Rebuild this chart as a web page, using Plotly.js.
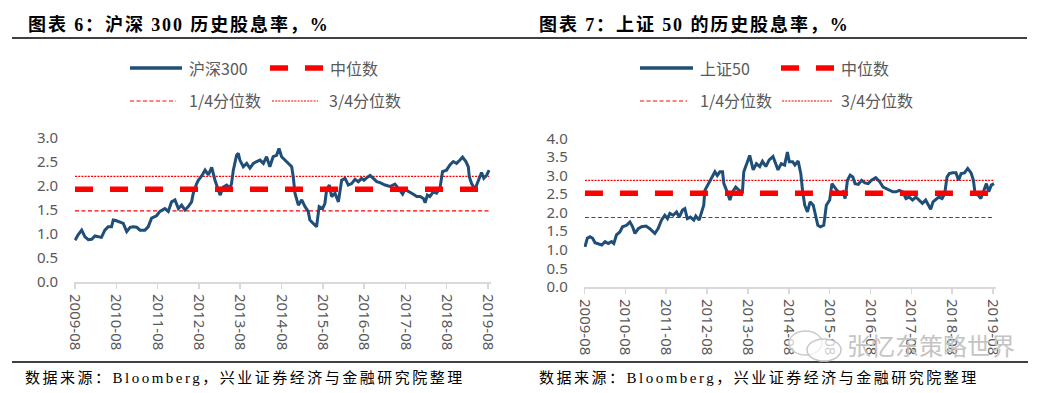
<!DOCTYPE html>
<html>
<head>
<meta charset="utf-8">
<script src="https://cdn.plot.ly/plotly-3.0.1.min.js"></script>
<style>
  html, body { margin: 0; padding: 0; background: #fff; }
  #chart { width: 1058px; height: 393px; }
</style>
</head>
<body>
<div id="chart"></div>
<script>
// ---------------- data ----------------
const hs300Dates = [
  '2009-08-01','2009-08-30','2009-09-29','2009-10-28','2009-11-27','2009-12-26','2010-01-25','2010-02-24','2010-03-23','2010-04-22',
  '2010-05-21','2010-06-20','2010-07-05','2010-07-28','2010-09-03','2010-10-02','2010-11-01','2010-12-01','2010-12-30','2011-01-29',
  '2011-02-27','2011-04-11','2011-05-10','2011-06-09','2011-07-23','2011-08-22','2011-10-05','2011-11-04','2011-12-03','2012-01-02',
  '2012-02-01','2012-03-01','2012-03-30','2012-04-29','2012-05-28','2012-06-12','2012-07-12','2012-07-26','2012-08-25','2012-09-24',
  '2012-10-23','2012-11-22','2012-12-21','2013-01-20','2013-02-04','2013-03-04','2013-04-03','2013-05-02','2013-05-16','2013-06-01',
  '2013-06-30','2013-07-15','2013-07-29','2013-08-28','2013-09-27','2013-10-26','2013-11-25','2013-12-24','2014-01-23','2014-02-22',
  '2014-03-22','2014-04-20','2014-05-19','2014-06-18','2014-07-10','2014-08-02','2014-09-01','2014-10-01','2014-10-30','2014-11-13',
  '2014-11-28','2014-12-28','2015-01-27','2015-02-25','2015-03-25','2015-04-09','2015-05-08','2015-06-07','2015-06-30','2015-07-30',
  '2015-08-20','2015-09-04','2015-09-28','2015-10-18','2015-11-17','2015-12-17','2016-01-15','2016-02-14','2016-03-14','2016-04-12',
  '2016-05-12','2016-06-10','2016-07-10','2016-07-30','2016-08-23','2016-09-22','2016-10-21','2016-11-20','2016-12-19','2017-02-02',
  '2017-03-17','2017-04-30','2017-05-30','2017-07-07','2017-07-27','2017-09-10','2017-10-10','2017-11-09','2017-12-08','2018-01-07',
  '2018-01-22','2018-02-11','2018-03-05','2018-04-04','2018-05-03','2018-06-02','2018-06-25','2018-07-30','2018-08-29','2018-09-28',
  '2018-10-27','2018-11-26','2018-12-19','2019-01-18','2019-02-08','2019-02-17','2019-03-09','2019-04-07','2019-05-07','2019-06-05',
  '2019-06-25','2019-07-19','2019-08-11'
];
const hs300Values = [
  0.87,0.99,1.08,0.94,0.88,0.89,0.96,0.94,0.93,1.08,
  1.15,1.15,1.29,1.28,1.24,1.22,1.05,1.14,1.15,1.14,
  1.08,1.08,1.15,1.33,1.38,1.47,1.53,1.47,1.67,1.71,
  1.53,1.60,1.50,1.57,1.67,1.85,2.05,2.12,2.21,2.33,
  2.23,2.39,2.12,1.92,1.81,1.98,2.02,1.95,2.05,2.33,
  2.64,2.68,2.54,2.40,2.47,2.37,2.47,2.51,2.54,2.47,
  2.61,2.40,2.61,2.64,2.78,2.61,2.54,2.47,2.40,2.19,
  1.85,1.60,1.71,1.57,1.47,1.29,1.22,1.15,1.57,1.53,
  1.64,1.92,2.02,1.78,1.85,1.67,2.12,2.16,2.02,2.05,
  2.14,2.09,2.16,2.12,2.17,2.22,2.16,2.09,2.07,2.02,
  1.99,2.04,1.95,1.83,1.93,1.88,1.83,1.78,1.78,1.74,
  1.65,1.81,1.78,1.88,1.85,1.95,2.30,2.33,2.44,2.51,
  2.47,2.54,2.60,2.51,2.40,2.19,2.05,1.93,2.12,2.28,
  2.16,2.22,2.33
];
const hs300Median = 1.93, hs300Q1 = 1.48, hs300Q3 = 2.20;

const sz50Dates = [
  '2009-08-05','2009-08-26','2009-09-19','2009-10-13','2009-11-03','2009-12-02','2010-01-02','2010-02-01','2010-03-01','2010-03-30',
  '2010-04-20','2010-05-14','2010-06-13','2010-07-07','2010-08-12','2010-09-11','2010-10-05','2010-10-26','2010-11-25','2010-12-24',
  '2011-02-02','2011-03-08','2011-04-22','2011-05-21','2011-06-20','2011-07-20','2011-08-13','2011-09-03','2011-10-03','2011-11-02',
  '2011-11-26','2011-12-25','2012-01-15','2012-02-06','2012-03-05','2012-04-04','2012-04-22','2012-05-22','2012-06-12','2012-07-02',
  '2012-07-12','2012-08-11','2012-09-10','2012-10-10','2012-10-31','2012-11-24','2012-12-17','2012-12-29','2013-01-22','2013-02-21',
  '2013-03-16','2013-04-14','2013-05-14','2013-06-13','2013-06-25','2013-07-18','2013-08-17','2013-09-17','2013-10-16','2013-11-15',
  '2013-12-09','2014-01-08','2014-02-07','2014-03-13','2014-04-06','2014-04-27','2014-05-26','2014-06-25','2014-07-20','2014-08-06',
  '2014-09-05','2014-09-25','2014-10-24','2014-11-17','2014-12-02','2014-12-22','2015-01-15','2015-02-08','2015-03-08','2015-03-28',
  '2015-04-18','2015-05-11','2015-06-10','2015-07-03','2015-08-02','2015-08-22','2015-09-12','2015-10-06','2015-11-05','2015-11-28',
  '2015-12-18','2016-01-08','2016-02-01','2016-02-25','2016-03-16','2016-04-14','2016-05-13','2016-06-12','2016-07-11','2016-08-10',
  '2016-09-17','2016-10-22','2016-11-21','2016-12-20','2017-01-19','2017-02-17','2017-03-17','2017-04-16','2017-05-15','2017-06-14',
  '2017-07-13','2017-08-12','2017-09-10','2017-10-10','2017-11-08','2017-12-07','2018-01-01','2018-01-21','2018-02-11','2018-03-05',
  '2018-04-03','2018-05-03','2018-05-26','2018-06-16','2018-07-06','2018-08-05','2018-09-04','2018-09-27','2018-10-20','2018-11-19',
  '2018-12-18','2019-01-17','2019-02-07','2019-02-22','2019-03-21','2019-04-14','2019-05-13','2019-06-03','2019-06-24','2019-07-17',
  '2019-08-10'
];
const sz50Values = [
  1.08,1.31,1.35,1.31,1.19,1.17,1.13,1.22,1.17,1.22,
  1.17,1.40,1.48,1.62,1.66,1.75,1.62,1.44,1.57,1.62,
  1.64,1.57,1.44,1.57,1.80,1.93,1.84,1.98,1.93,2.02,
  1.88,2.07,2.11,1.84,1.88,1.80,1.91,1.80,2.02,2.20,
  2.60,2.78,2.92,3.10,3.00,3.10,3.10,2.78,2.60,2.34,
  2.56,2.69,2.60,2.56,3.10,3.32,3.54,3.15,3.32,3.24,
  3.38,3.24,3.42,3.51,3.32,3.15,3.32,3.28,3.63,3.37,
  3.37,3.28,3.39,3.05,2.60,2.20,2.02,2.29,2.20,1.93,
  1.66,1.62,1.66,2.20,2.34,2.78,2.69,2.60,2.51,2.56,
  2.38,2.87,3.01,2.96,2.78,2.76,2.87,2.80,2.78,2.87,
  2.94,2.83,2.69,2.65,2.62,2.56,2.56,2.60,2.56,2.38,
  2.42,2.34,2.42,2.34,2.25,2.34,2.20,2.09,2.29,2.34,
  2.42,2.38,2.51,2.96,3.05,3.07,3.07,2.87,3.05,3.07,
  3.19,3.07,2.87,2.51,2.47,2.38,2.60,2.78,2.56,2.74,
  2.78
];
const sz50Median = 2.52, sz50Q1 = 1.87, sz50Q3 = 2.87;

const xTickVals = ['2009-08-01','2010-08-01','2011-08-01','2012-08-01','2013-08-01','2014-08-01','2015-08-01','2016-08-01','2017-08-01','2018-08-01','2019-08-01'];
const xTickText = ['2009-08','2010-08','2011-08','2012-08','2013-08','2014-08','2015-08','2016-08','2017-08','2018-08','2019-08'];
const yTicksLeft = [0, 0.5, 1, 1.5, 2, 2.5, 3];
const yTicksRight = [0, 0.5, 1, 1.5, 2, 2.5, 3, 3.5, 4];

const titleLeft = '图表 6：沪深 300 历史股息率，%';
const titleRight = '图表 7：上证 50 的历史股息率，%';
const sourceText = '数据来源：Bloomberg，兴业证券经济与金融研究院整理';
const nameLeft = '沪深300', nameRight = '上证50';
const nameMedian = '中位数', nameQ1 = '1/4分位数', nameQ3 = '3/4分位数';
const watermark = '张忆东策略世界';

// ---------------- style ----------------
const W = 1058, H = 393;
const X = p => p / W;
const Y = p => 1 - p / H;
const BLUE = '#1f4e79', RED = '#ff0000', GRAY = '#595959';
const tickFont = {family: 'Noto Sans, DejaVu Sans, sans-serif', size: 15, color: GRAY};
const legFont = {family: 'Noto Sans CJK SC, Noto Sans, sans-serif', size: 16, color: GRAY};
const titleFont = {family: 'Liberation Serif, Noto Sans CJK SC, serif', size: 18, color: '#000'};
const srcFont = {family: 'Liberation Serif, Noto Sans CJK SC, serif', size: 15, color: '#000'};

const medLine = {color: RED, width: 5.5, dash: '18px,17px'};
const q1Line = {color: RED, width: 1.2, dash: '4px,2.5px'};
const q3Line = {color: RED, width: 1.2, dash: '2px,1.2px'};

function refTrace(dates, v, line, xa, ya) {
  return {x: [dates[0], dates[dates.length - 1]], y: [v, v], mode: 'lines', line: line,
          xaxis: xa, yaxis: ya, hoverinfo: 'skip', showlegend: false};
}

const data = [
  refTrace(hs300Dates, hs300Q1, q1Line, 'x', 'y'),
  refTrace(hs300Dates, hs300Q3, q3Line, 'x', 'y'),
  {x: hs300Dates, y: hs300Values, mode: 'lines', line: {color: BLUE, width: 3}, xaxis: 'x', yaxis: 'y', name: nameLeft},
  refTrace(hs300Dates, hs300Median, medLine, 'x', 'y'),
  refTrace(sz50Dates, sz50Q1, q1Line, 'x2', 'y2'),
  refTrace(sz50Dates, sz50Q3, q3Line, 'x2', 'y2'),
  {x: sz50Dates, y: sz50Values, mode: 'lines', line: {color: BLUE, width: 3}, xaxis: 'x2', yaxis: 'y2', name: nameRight},
  refTrace(sz50Dates, sz50Median, medLine, 'x2', 'y2')
];

function xAxis(d0, d1, anchor) {
  return {domain: [X(d0), X(d1)], type: 'date', range: ['2009-07-25', '2019-08-25'], anchor: anchor,
          tickvals: xTickVals, ticktext: xTickText, tickangle: 90, tickfont: tickFont,
          showline: true, linecolor: '#d9d9d9', linewidth: 2, ticks: 'outside', ticklen: 5, tickwidth: 1.5,
          tickcolor: '#d9d9d9', showgrid: false, zeroline: false, ticklabelstandoff: 2, fixedrange: true};
}
function yAxis(bottom, top, maxV, vals, anchor) {
  return {domain: [Y(bottom), Y(top)], range: [0, maxV], tickvals: vals, tickformat: '.1f', tickfont: tickFont,
          showgrid: false, zeroline: false, showline: false, ticks: '', ticklabelstandoff: 15, anchor: anchor, fixedrange: true};
}

function hline(x0, x1, y, line) {
  return {type: 'line', xref: 'paper', yref: 'paper', x0: X(x0), x1: X(x1), y0: Y(y), y1: Y(y), line: line};
}
function label(text, x, y, font, extra) {
  return Object.assign({text: text, xref: 'paper', yref: 'paper', x: X(x), y: Y(y), xanchor: 'left', yanchor: 'middle',
                        align: 'left', showarrow: false, font: font}, extra || {});
}
function spaced(text, px) {
  return '<span style="letter-spacing:' + px + 'px">' + text + '</span>';
}

const shapes = [
  hline(12, 1027, 38, {color: '#000', width: 1.5}),
  hline(12, 1028, 362, {color: '#000', width: 1.5}),
  // left legend
  hline(130, 182, 68, {color: BLUE, width: 3.5}),
  hline(270, 323, 68, {color: RED, width: 5.5, dash: '18px,17px'}),
  hline(130, 176, 101, q1Line),
  hline(272, 318, 101, q3Line),
  // right legend
  hline(640, 693, 68, {color: BLUE, width: 3.5}),
  hline(781, 834, 68, {color: RED, width: 5.5, dash: '18px,17px'}),
  hline(640, 687, 101, q1Line),
  hline(782, 832, 101, q3Line),
  // watermark bubbles
  {type: 'circle', xref: 'paper', yref: 'paper', x0: X(789), x1: X(822), y0: Y(355), y1: Y(331),
   line: {color: '#c8c8c8', width: 1.5}, fillcolor: 'rgba(255,255,255,0.7)'},
  {type: 'circle', xref: 'paper', yref: 'paper', x0: X(807), x1: X(841), y0: Y(361), y1: Y(339),
   line: {color: '#c8c8c8', width: 1.5}, fillcolor: 'rgba(255,255,255,0.7)'}
];

const annotations = [
  label('<b>' + spaced(titleLeft, 1.9) + '</b>', 26, 25, titleFont),
  label('<b>' + spaced(titleRight, 1.9) + '</b>', 537, 25, titleFont),
  label(spaced(sourceText, 2.5), 23, 377, srcFont),
  label(spaced(sourceText, 2.5), 537, 377, srcFont),
  label(nameLeft, 187, 68, legFont),
  label(nameMedian, 328, 68, legFont),
  label(nameQ1, 187, 100, legFont),
  label(nameQ3, 327, 100, legFont),
  label(nameRight, 698, 68, legFont),
  label(nameMedian, 839, 68, legFont),
  label(nameQ1, 698, 100, legFont),
  label(nameQ3, 839, 100, legFont),
  label(watermark, 845, 344, {family: 'Noto Sans CJK SC, sans-serif', size: 24, color: '#c4c4c4'})
];

const layout = {
  width: W, height: H, margin: {l: 0, r: 0, t: 0, b: 0},
  paper_bgcolor: '#fff', plot_bgcolor: '#fff', showlegend: false,
  xaxis: xAxis(74.21, 490.71, 'y'),
  yaxis: yAxis(282, 138, 3, yTicksLeft, 'x'),
  xaxis2: xAxis(583.72, 995.68, 'y2'),
  yaxis2: yAxis(287, 138.3, 4, yTicksRight, 'x2'),
  shapes: shapes,
  annotations: annotations
};

Plotly.newPlot('chart', data, layout, {staticPlot: true, displayModeBar: false});
</script>
</body>
</html>
